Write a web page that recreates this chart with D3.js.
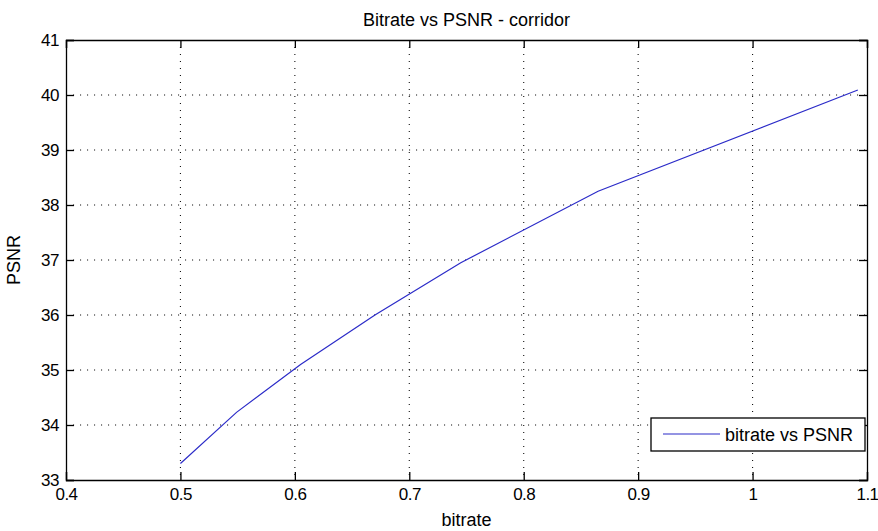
<!DOCTYPE html>
<html>
<head>
<meta charset="utf-8">
<script src="https://cdn.jsdelivr.net/npm/d3@7"></script>
<style>
  body { margin: 0; background: #fff; }
  svg text { font-family: Arial, "Liberation Sans", sans-serif; fill: #000; }
</style>
</head>
<body>
<div id="chart"></div>
<script>
// Data
const bitrate = [0.5, 0.549, 0.605, 0.67, 0.745, 0.865, 1.092];
const psnr = [33.3, 34.23, 35.1, 36.0, 36.95, 38.25, 40.09];
const xTicks = [0.4, 0.5, 0.6, 0.7, 0.8, 0.9, 1, 1.1];
const yTicks = [33, 34, 35, 36, 37, 38, 39, 40, 41];
const titleText = 'Bitrate vs PSNR - corridor';
const legendText = 'bitrate vs PSNR';

const width = 878;
const height = 531;
const margin = { top: 40, right: 11, bottom: 51, left: 66 };
const w = width - margin.left - margin.right;
const h = height - margin.top - margin.bottom;

const svg = d3.select('#chart')
    .append('svg')
    .attr('width', width)
    .attr('height', height);

const g = svg.append('g')
    .attr('transform', `translate(${margin.left},${margin.top})`);

const x = d3.scaleLinear().domain([0.4, 1.1]).range([0, w]);
const y = d3.scaleLinear().domain([33, 41]).range([h, 0]);

// dotted grid
g.selectAll('.vgrid')
    .data(xTicks.slice(1, -1))
    .enter()
    .append('line')
    .attr('x1', d => x(d)).attr('x2', d => x(d))
    .attr('y1', 0).attr('y2', h)
    .attr('stroke', '#111')
    .attr('stroke-width', 1.1)
    .attr('stroke-dasharray', '1.1,5.9');

g.selectAll('.hgrid')
    .data(yTicks.slice(1, -1))
    .enter()
    .append('line')
    .attr('x1', 0).attr('x2', w)
    .attr('y1', d => y(d)).attr('y2', d => y(d))
    .attr('stroke', '#111')
    .attr('stroke-width', 1.1)
    .attr('stroke-dasharray', '1.1,5.9');

// axes: inward ticks on all four sides
const tickLen = 8;
const fmt = d => String(d);

g.append('g')
    .attr('transform', `translate(0,${h})`)
    .call(d3.axisBottom(x).tickValues(xTicks).tickSize(-tickLen).tickPadding(8).tickFormat(fmt));
g.append('g')
    .call(d3.axisTop(x).tickValues(xTicks).tickSize(-tickLen).tickFormat(''));
g.append('g')
    .call(d3.axisLeft(y).tickValues(yTicks).tickSize(-tickLen).tickPadding(7).tickFormat(fmt));
g.append('g')
    .attr('transform', `translate(${w},0)`)
    .call(d3.axisRight(y).tickValues(yTicks).tickSize(-tickLen).tickFormat(''));

g.selectAll('.domain').attr('stroke', '#000').attr('stroke-width', 1.3);
g.selectAll('.tick line').attr('stroke', '#000').attr('stroke-width', 1.3);
g.selectAll('.tick text')
    .attr('font-size', 17)
    .attr('letter-spacing', '-0.5px')
    .attr('font-family', 'Arial, "Liberation Sans", sans-serif')
    .attr('fill', '#222');

// data line
const line = d3.line()
    .x((d, i) => x(bitrate[i]))
    .y(d => y(d));

g.append('path')
    .datum(psnr)
    .attr('fill', 'none')
    .attr('stroke', '#2b2bc8')
    .attr('stroke-width', 1.2)
    .attr('d', line);

// legend
const legend = svg.append('g').attr('transform', 'translate(651,418)');
legend.append('rect')
    .attr('width', 214).attr('height', 33)
    .attr('fill', '#fff')
    .attr('stroke', '#000')
    .attr('stroke-width', 1.3);
legend.append('line')
    .attr('x1', 12).attr('x2', 69)
    .attr('y1', 16).attr('y2', 16)
    .attr('stroke', '#2b2bc8')
    .attr('stroke-width', 1.2);
legend.append('text')
    .attr('x', 74).attr('y', 23)
    .attr('font-size', 18)
    .attr('fill', '#222')
    .text(legendText);

// title and axis labels
svg.append('text')
    .attr('x', margin.left + w / 2).attr('y', 26)
    .attr('text-anchor', 'middle')
    .attr('font-size', 18)
    .attr('fill', '#222')
    .text(titleText);

svg.append('text')
    .attr('x', margin.left + w / 2).attr('y', 526)
    .attr('text-anchor', 'middle')
    .attr('font-size', 18)
    .attr('fill', '#222')
    .text('bitrate');

svg.append('text')
    .attr('transform', `translate(20,${margin.top + h / 2}) rotate(-90)`)
    .attr('text-anchor', 'middle')
    .attr('font-size', 18)
    .attr('fill', '#222')
    .text('PSNR');
</script>
</body>
</html>
